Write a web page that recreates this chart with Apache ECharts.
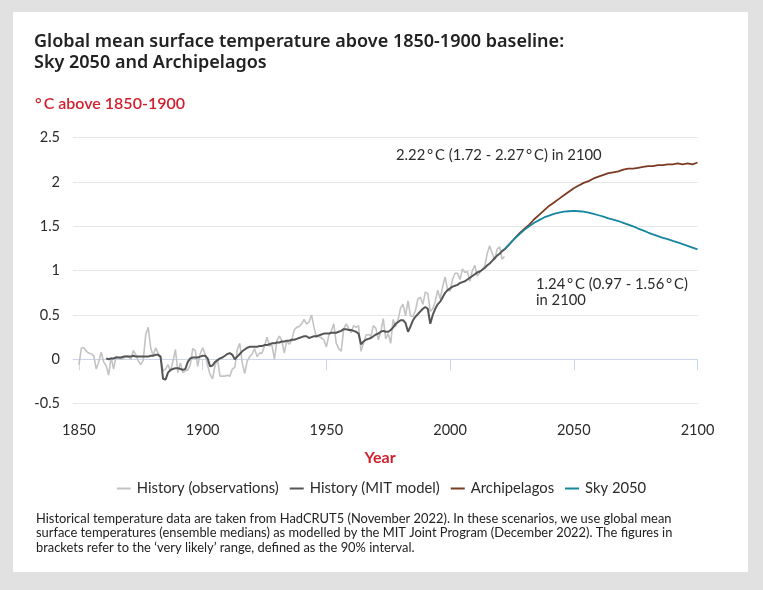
<!DOCTYPE html>
<html>
<head>
<meta charset="utf-8">
<script src="https://cdn.jsdelivr.net/npm/echarts@6.0.0/dist/echarts.min.js"></script>
<style>
  html, body { margin: 0; padding: 0; background: #e1e1e1; }
  #card { position: absolute; left: 13px; top: 12px; width: 735px; height: 560px; background: #ffffff; }
  #chart { position: absolute; left: 0; top: 0; width: 763px; height: 590px; }
</style>
</head>
<body>
<div id="card"></div>
<div id="chart"></div>
<script>
// ---- Data ----
const obsStartYear = 1850;
const obsValues = [
  -0.06, 0.13, 0.13, 0.09, 0.07, 0.06, 0.04, -0.11, -0.03, 0.08,
  -0.03, -0.07, -0.18, 0.02, -0.11, 0.03, 0.02, 0.00, 0.01, 0.04,
  0.03, 0.00, 0.10, 0.05, -0.02, -0.06, -0.01, 0.28, 0.36, 0.13,
  0.04, 0.13, 0.07, 0.01, -0.13, -0.11, -0.06, -0.14, -0.02, 0.11,
  -0.15, -0.04, -0.15, -0.13, -0.12, -0.06, 0.12, 0.10, -0.08, 0.06,
  0.13, 0.06, -0.07, -0.17, -0.22, -0.07, 0.00, -0.19, -0.19, -0.19,
  -0.18, -0.19, -0.11, -0.09, 0.11, 0.18, -0.04, -0.16, -0.02, 0.03,
  0.06, 0.12, 0.03, 0.07, 0.07, 0.15, 0.25, 0.15, 0.16, 0.00,
  0.21, 0.26, 0.21, 0.07, 0.21, 0.17, 0.21, 0.33, 0.36, 0.37,
  0.40, 0.45, 0.40, 0.42, 0.50, 0.36, 0.25, 0.26, 0.24, 0.22,
  0.14, 0.27, 0.32, 0.40, 0.18, 0.12, 0.09, 0.34, 0.40, 0.35,
  0.30, 0.38, 0.36, 0.38, 0.09, 0.18, 0.27, 0.28, 0.26, 0.38,
  0.35, 0.22, 0.31, 0.46, 0.23, 0.29, 0.18, 0.45, 0.37, 0.45,
  0.58, 0.62, 0.49, 0.66, 0.49, 0.48, 0.55, 0.68, 0.70, 0.62,
  0.76, 0.74, 0.54, 0.57, 0.65, 0.78, 0.68, 0.82, 0.93, 0.78,
  0.77, 0.90, 0.97, 0.97, 0.90, 1.02, 0.98, 0.99, 0.88, 1.00,
  1.06, 0.94, 0.98, 1.01, 1.05, 1.19, 1.28, 1.20, 1.12, 1.24,
  1.27, 1.13, 1.16
];

const modelStartYear = 1861;
const modelValues = [
  0.01, 0.00, 0.01, 0.01, 0.02, 0.02, 0.02, 0.03, 0.03,
  0.03, 0.03, 0.04, 0.03, 0.03, 0.03, 0.03, 0.03, 0.03, 0.04,
  0.04, 0.05, 0.05, 0.03, -0.22, -0.23, -0.15, -0.12, -0.11, -0.10,
  -0.10, -0.11, -0.12, -0.11, -0.03, 0.01, 0.02, 0.02, 0.02, 0.03,
  0.04, 0.04, 0.01, -0.08, -0.07, -0.03, -0.01, 0.01, 0.02, 0.04,
  0.06, 0.07, 0.05, 0.00, 0.03, 0.06, 0.09, 0.11, 0.13, 0.14,
  0.14, 0.14, 0.14, 0.15, 0.15, 0.16, 0.16, 0.17, 0.18, 0.18,
  0.19, 0.19, 0.20, 0.20, 0.21, 0.21, 0.22, 0.22, 0.23, 0.24,
  0.25, 0.26, 0.26, 0.24, 0.25, 0.26, 0.26, 0.27, 0.28, 0.29,
  0.29, 0.29, 0.30, 0.30, 0.30, 0.31, 0.32, 0.34, 0.34, 0.33,
  0.33, 0.32, 0.31, 0.29, 0.17, 0.20, 0.22, 0.23, 0.24, 0.26,
  0.28, 0.29, 0.31, 0.32, 0.31, 0.31, 0.33, 0.36, 0.40, 0.42,
  0.44, 0.44, 0.41, 0.31, 0.37, 0.44, 0.48, 0.51, 0.54, 0.57,
  0.59, 0.57, 0.40, 0.50, 0.57, 0.62, 0.65, 0.70, 0.75, 0.78,
  0.80, 0.82, 0.83, 0.84, 0.86, 0.87, 0.88, 0.90, 0.92, 0.94,
  0.96, 0.98, 0.99, 1.01, 1.03, 1.06, 1.08, 1.11, 1.14, 1.17,
  1.19, 1.22, 1.24
];

const scenarioYears = [
  2022, 2024, 2026, 2028, 2030, 2032, 2034, 2036, 2038, 2040,
  2042, 2044, 2046, 2048, 2050, 2052, 2054, 2056, 2058, 2060,
  2062, 2064, 2066, 2068, 2070, 2072, 2074, 2076, 2078, 2080,
  2082, 2084, 2086, 2088, 2090, 2092, 2094, 2096, 2098, 2100
];
const archipelagosValues = [
  1.24, 1.30, 1.36, 1.42, 1.47, 1.52, 1.58, 1.63, 1.68, 1.73,
  1.77, 1.81, 1.85, 1.89, 1.93, 1.96, 1.99, 2.01, 2.04, 2.06,
  2.08, 2.10, 2.11, 2.12, 2.14, 2.15, 2.15, 2.16, 2.17, 2.18,
  2.18, 2.19, 2.19, 2.20, 2.20, 2.21, 2.20, 2.21, 2.20, 2.22
];
const sky2050Values = [
  1.24, 1.30, 1.36, 1.41, 1.46, 1.50, 1.54, 1.57, 1.60, 1.62,
  1.64, 1.655, 1.665, 1.67, 1.675, 1.67, 1.665, 1.655, 1.64, 1.625,
  1.61, 1.59, 1.575, 1.56, 1.54, 1.52, 1.50, 1.475, 1.455, 1.43,
  1.41, 1.39, 1.37, 1.355, 1.335, 1.32, 1.30, 1.28, 1.26, 1.24
];

const xTickValues = [1850, 1900, 1950, 2000, 2050, 2100];
const seriesNames = ['History (observations)', 'History (MIT model)', 'Archipelagos', 'Sky 2050'];

// ---- Build series data ----
const obsData = obsValues.map((v, i) => [obsStartYear + i, v]);
const modelData = modelValues.map((v, i) => [modelStartYear + i, v]);
const archData = scenarioYears.map((y, i) => [y, archipelagosValues[i]]);
const skyData = scenarioYears.map((y, i) => [y, sky2050Values[i]]);

const FONT = 'Lato, "Noto Sans", sans-serif';
const TITLE_FONT = '"Noto Sans", Lato, sans-serif';
const RED = '#d0202e';
const TXT = '#2b2b2b';
const DEG = '\u2009°\u2009C';

const chart = echarts.init(document.getElementById('chart'), null, { renderer: 'canvas' });

chart.setOption({
  animation: false,
  backgroundColor: 'transparent',
  textStyle: { fontFamily: FONT },
  grid: { left: 73, right: 65.5, top: 137.7, bottom: 186.4, containLabel: false },
  xAxis: {
    type: 'value',
    min: 1847.6,
    max: 2100,
    splitLine: { show: false },
    axisLine: { show: true, lineStyle: { color: '#ccd6eb', width: 1 } },
    axisTick: { show: true, length: 11, lineStyle: { color: '#ccd6eb', width: 1 }, customValues: xTickValues },
    axisLabel: { show: true, customValues: xTickValues, fontSize: 14.5, color: TXT, fontFamily: FONT, margin: 19,
      formatter: v => String(v) }
  },
  yAxis: {
    type: 'value',
    min: -0.5,
    max: 2.5,
    interval: 0.5,
    axisLine: { show: false },
    axisTick: { show: false },
    splitLine: { show: true, lineStyle: { color: '#e6e6e6', width: 1 } },
    axisLabel: { fontSize: 14.5, color: TXT, fontFamily: FONT, margin: 13, formatter: v => String(v) }
  },
  legend: {
    data: seriesNames,
    left: 'center',
    top: 476,
    icon: 'rect',
    itemWidth: 14,
    itemHeight: 2,
    itemGap: 11,
    textStyle: { fontSize: 14.8, color: TXT, fontFamily: FONT, padding: [0, 0, 0, 1] }
  },
  series: [
    { name: seriesNames[0], type: 'line', data: obsData, symbol: 'none', showSymbol: false,
      lineStyle: { color: '#c3c3c3', width: 1.6 }, itemStyle: { color: '#c3c3c3' }, z: 2 },
    { name: seriesNames[1], type: 'line', data: modelData, symbol: 'none', showSymbol: false,
      lineStyle: { color: '#555555', width: 2 }, itemStyle: { color: '#555555' }, z: 3 },
    { name: seriesNames[2], type: 'line', data: archData, symbol: 'none', showSymbol: false,
      lineStyle: { color: '#7b3a22', width: 1.8 }, itemStyle: { color: '#7b3a22' }, z: 4 },
    { name: seriesNames[3], type: 'line', data: skyData, symbol: 'none', showSymbol: false,
      lineStyle: { color: '#1786a0', width: 1.8 }, itemStyle: { color: '#1786a0' }, z: 5 }
  ],
  graphic: [
    { type: 'text', x: 34, y: 42, silent: true,
      style: { text: 'Global mean surface temperature above 1850-1900 baseline:', font: '600 18px ' + TITLE_FONT, fill: '#222', verticalAlign: 'middle' } },
    { type: 'text', x: 34, y: 63, silent: true,
      style: { text: 'Sky 2050 and Archipelagos', font: '600 18px ' + TITLE_FONT, fill: '#222', verticalAlign: 'middle' } },
    { type: 'text', x: 35, y: 103.5, silent: true,
      style: { text: '°\u2009C above 1850-1900', font: '600 16px ' + FONT, fill: RED, verticalAlign: 'middle' } },
    { type: 'text', x: 380, y: 458, silent: true,
      style: { text: 'Year', font: 'bold 16px ' + FONT, fill: RED, align: 'center', verticalAlign: 'middle' } },
    { type: 'text', x: 396, y: 155, silent: true,
      style: { text: '2.22' + DEG + ' (1.72 - 2.27' + DEG + ') in 2100', font: '14.8px ' + FONT, fill: TXT, verticalAlign: 'middle' } },
    { type: 'text', x: 536, y: 284, silent: true,
      style: { text: '1.24' + DEG + ' (0.97 - 1.56' + DEG + ')', font: '14.8px ' + FONT, fill: TXT, verticalAlign: 'middle' } },
    { type: 'text', x: 536, y: 300.5, silent: true,
      style: { text: 'in 2100', font: '14.8px ' + FONT, fill: TXT, verticalAlign: 'middle' } },
    { type: 'text', x: 36, y: 519, silent: true,
      style: { text: 'Historical temperature data are taken from HadCRUT5 (November 2022). In these scenarios, we use global mean', font: '12.9px ' + FONT, fill: '#222', verticalAlign: 'middle' } },
    { type: 'text', x: 36, y: 533.3, silent: true,
      style: { text: 'surface temperatures (ensemble medians) as modelled by the MIT Joint Program (December 2022). The figures in', font: '12.9px ' + FONT, fill: '#222', verticalAlign: 'middle' } },
    { type: 'text', x: 36, y: 547.6, silent: true,
      style: { text: 'brackets refer to the \u2018very likely\u2019 range, defined as the 90% interval.', font: '12.9px ' + FONT, fill: '#222', verticalAlign: 'middle' } }
  ]
});
</script>
</body>
</html>
